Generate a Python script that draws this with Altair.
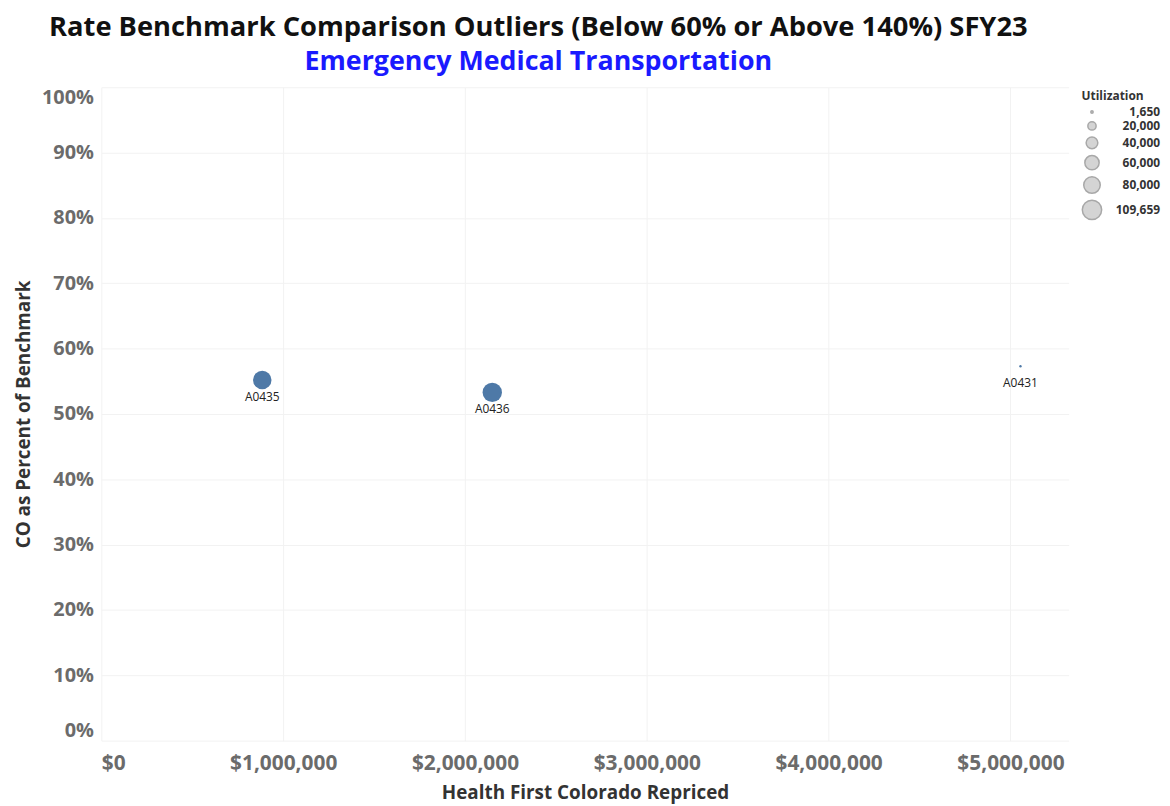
import altair as alt
import pandas as pd

codes = ["A0435", "A0436", "A0431"]
repriced = [885000, 2150000, 5055000]
pct_benchmark = [0.552, 0.533, 0.573]
utilization = [100000, 109659, 1650]
legend_values = [1650, 20000, 40000, 60000, 80000, 109659]

df = pd.DataFrame({
    "code": codes,
    "repriced": repriced,
    "pct": pct_benchmark,
    "util": utilization,
})

FONT = "Open Sans"

x = alt.X("repriced:Q", title="Health First Colorado Repriced",
          scale=alt.Scale(domain=[0, 5320000], nice=False, zero=True),
          axis=alt.Axis(values=[0, 1000000, 2000000, 3000000, 4000000, 5000000],
                        format="$,.0f", labelFontSize=21, labelFontWeight="bold",
                        labelColor="#6b6b6b", labelFont=FONT, labelPadding=12,
                        titleFont=FONT, titleFontSize=19, titleFontWeight="bold",
                        titleColor="#333333", titlePadding=10,
                        grid=True, gridColor="#f2f2f2", domain=False, ticks=False,
                        labelFlush=True))
y = alt.Y("pct:Q", title="CO as Percent of Benchmark",
          scale=alt.Scale(domain=[0, 1], nice=False),
          axis=alt.Axis(values=[0, .1, .2, .3, .4, .5, .6, .7, .8, .9, 1.0],
                        format=".0%", labelFontSize=20, labelFontWeight="bold",
                        labelColor="#6b6b6b", labelFont=FONT, labelPadding=8,
                        titleFont=FONT, titleFontSize=19, titleFontWeight="bold",
                        titleColor="#333333", titlePadding=8,
                        grid=True, gridColor="#f2f2f2", domain=False, ticks=False,
                        labelFlush=True))

size_scale = alt.Scale(domain=[0, 109659], range=[0, 380], zero=True)

legend_layer = alt.Chart(df).transform_filter("datum.util < 0").mark_circle(
    opacity=1, color="#d4d4d4", stroke="#a8a8a8", strokeWidth=1
).encode(
    x=x, y=y,
    size=alt.Size("util:Q", title="Utilization", scale=size_scale,
                  legend=alt.Legend(values=legend_values, format=",.0f",
                                    orient="none", legendX=987, legendY=4,
                                    titleFont=FONT, titleFontSize=12, titleFontWeight="bold",
                                    titleColor="#333333", labelFont=FONT, labelFontSize=12,
                                    labelFontWeight="bold", labelColor="#333333",
                                    labelAlign="right", labelOffset=58,
                                    rowPadding=0, titlePadding=3)),
)

points = alt.Chart(df).mark_circle(opacity=1, color="#4e79a7").encode(
    x=x, y=y,
    size=alt.Size("util:Q", scale=size_scale, legend=None),
)

labels = alt.Chart(df).mark_text(dy=17, fontSize=12, font=FONT, color="#222222").encode(
    x="repriced:Q", y="pct:Q", text="code:N"
)

chart = (legend_layer + points + labels).resolve_scale(size="independent").properties(
    width=974, height=658,
    autosize=alt.AutoSizeParams(type="none"),
    padding={"left": 94, "top": 77, "right": 94, "bottom": 63},
    title=alt.TitleParams(
        text="Rate Benchmark Comparison Outliers (Below 60% or Above 140%) SFY23",
        subtitle="Emergency Medical Transportation",
        font=FONT, fontSize=27.5, fontWeight="bold", color="#111111",
        subtitleFont=FONT, subtitleFontSize=27, subtitleFontWeight="bold",
        subtitleColor="#1a1aff", subtitlePadding=8,
        anchor="middle", dx=-47, offset=12,
    ),
).configure_view(stroke=None)

chart.save("out.html", embed_options={"renderer": "svg", "actions": False})
